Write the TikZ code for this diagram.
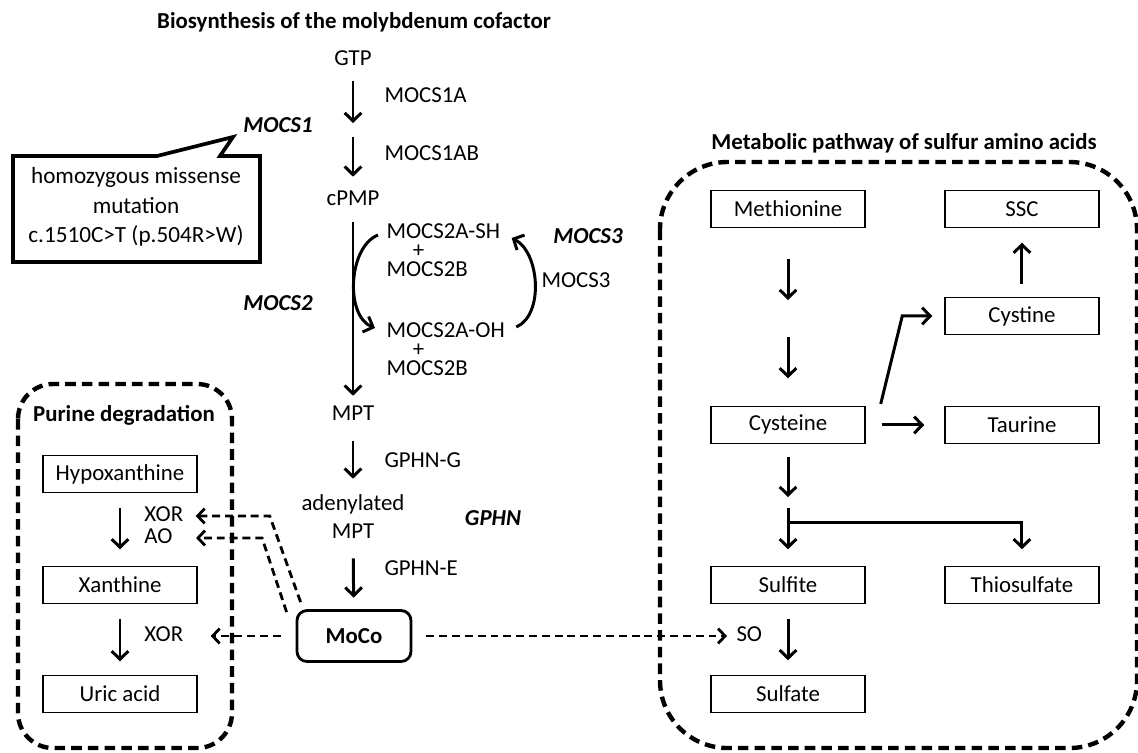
\documentclass[tikz,border=0pt]{standalone}
\usepackage{fontspec}
\setmainfont{Carlito}
\usetikzlibrary{arrows.meta,positioning}

\begin{document}
\begin{tikzpicture}[x=0.02cm, y=-0.02cm, -{Straight Barb[length=4.6pt,width=9.5pt]}, line width=1.7pt, node distance=2.2cm, on grid,
  lbl/.style={font=\fontsize{13}{15}\selectfont, inner sep=0pt, text height=8.2pt, text depth=2.4pt},
  gene/.style={lbl, font=\fontsize{13}{15}\selectfont\bfseries\itshape},
  head/.style={font=\fontsize{13}{15}\selectfont\bfseries},
  pair/.style={font=\fontsize{13}{11}\selectfont, inner sep=0pt, align=left, anchor=north west},
  box/.style={draw, line width=0.8pt, minimum width=3.08cm, minimum height=0.74cm, font=\fontsize{13}{15}\selectfont},
  frame/.style={-, draw, line width=2.5pt, dash pattern=on 6pt off 3.5pt},
  dasharr/.style={line width=1.6pt, dash pattern=on 4.5pt off 2.8pt, -{Straight Barb[length=4pt,width=8.5pt]}}]
\useasboundingbox (0,0) rectangle (1138,752);

\node[head] (title1) at (354,22) {Biosynthesis of the molybdenum cofactor};
\node[lbl] (gtp) at (353,60) {GTP};
\coordinate (s1) at (353,130);
\node[lbl] (cpmp) at (353,200) {cPMP};
\node[lbl] (mpt) at (353,415) {MPT};
\node[lbl] (adn) at (353,505) {adenylated};
\node[lbl] (mpt2) at (353,533) {MPT};
\node[draw, rounded corners=0.2cm, line width=1.6pt, minimum width=2.28cm, minimum height=1.02cm, font=\fontsize{13}{15}\selectfont\bfseries] (moco) at (354,636) {MoCo};

\node[lbl, anchor=west] (mocs1a) at (383,97) {MOCS1A};
\node[lbl, anchor=west] (mocs1ab) at (383,155) {MOCS1AB};
\node[lbl, anchor=west] (gphng) at (383,462) {GPHN-G};
\node[lbl, anchor=west] (gphne) at (383,570) {GPHN-E};
\node[lbl, anchor=west] (mocs3) at (540,282) {MOCS3};
\node[gene] (g1) at (278,127) {MOCS1};
\node[gene] (g2) at (278,305) {MOCS2};
\node[gene] (g3) at (588,238) {MOCS3};
\node[gene] (g4) at (493,520) {GPHN};

\node[pair] (sh) at (385,222) {MOCS2A-SH\\\hspace*{15pt}+\\MOCS2B};
\node[pair] (oh) at (385,321) {MOCS2A-OH\\\hspace*{15pt}+\\MOCS2B};

\path (gtp) edge[shorten <=0.21cm, shorten >=0.14cm] (s1)
      (s1) edge[shorten <=0.14cm, shorten >=0.25cm] (cpmp)
      (cpmp) edge[shorten <=0.23cm, shorten >=0.17cm] (mpt)
      (mpt) edge[shorten <=0.31cm, shorten >=0.31cm] (adn)
      (mpt2) edge[shorten <=0.29cm, shorten >=0.23cm] (moco);

\draw ([shift={(-7,13)}]sh.north west) .. controls +(-30,12) and +(-30,-12) .. ([shift={(-10,7)}]oh.north west);
\draw ([shift={(10,6)}]oh.north east) .. controls +(28,-12) and +(28,14) .. ([shift={(10,16)}]sh.north east);

\draw[-, line width=2.1pt, line join=miter] (13,156) -- (157,156) -- (233,137) -- (220,156) -- (260,156) -- (260,262) -- (13,262) -- cycle;
\node[align=center, font=\fontsize{13.2}{16.7}\selectfont] (mut) at (136,207) {homozygous missense\\mutation\\c.1510C>T (p.504R>W)};

\draw[frame, rounded corners=0.7cm] (18,384) rectangle (232,748);
\node[head] (ptitle) at (124,415) {Purine degradation};
\node[box] (hypo) at (120,474) {Hypoxanthine};
\node[box, below of = hypo, node distance=2.22cm] (xan) {Xanthine};
\node[box, below of = xan, node distance=2.18cm] (uric) {Uric acid};
\node[lbl, anchor=west] (xor1) at (143,516) {XOR};
\node[lbl, anchor=west] (ao) at (143,538) {AO};
\node[lbl, anchor=west] (xor2) at (143,636) {XOR};

\path (hypo) edge[shorten <=0.29cm, shorten >=0.33cm] (xan)
      (xan) edge[shorten <=0.29cm, shorten >=0.27cm] (uric);

\draw[dasharr, shorten >=0.22cm] ([shift={(5,-7)}]moco.north west) -- ([shift={(85,0)}]xor1.east) -- (xor1.east);
\draw[dasharr, shorten >=0.44cm] ([shift={(-9,3)}]moco.north west) -- ([shift={(88,0)}]ao.east) -- (ao.east);
\draw[dasharr, shorten <=0.3cm, shorten >=0.52cm] (moco.west) -- (xor2.east);

\draw[frame, rounded corners=1.35cm] (660,162) rectangle (1137,748);
\node[head] (stitle) at (904,143) {Metabolic pathway of sulfur amino acids};
\node[box] (meth) at (788,209) {Methionine};
\node[box, right of = meth, node distance=4.68cm] (ssc) {SSC};
\node[box, below of = ssc, node distance=2.14cm] (cyst) {Cystine};
\node[box, below of = meth, node distance=4.32cm] (cys) {Cysteine};
\node[box, right of = cys, node distance=4.68cm] (tau) {Taurine};
\node[box, below of = cys, node distance=3.2cm] (sulfite) {Sulfite};
\node[box, right of = sulfite, node distance=4.68cm] (thio) {Thiosulfate};
\node[box, below of = sulfite, node distance=2.18cm] (sulfate) {Sulfate};
\node[lbl, anchor=west] (so) at (735,636) {SO};
\coordinate (m1) at (788,318);
\coordinate (br) at (788,508);
\coordinate (fork) at (788,522);

\path (meth) edge[shorten <=0.61cm, shorten >=0.36cm] (m1)
      (m1) edge[shorten <=0.38cm, shorten >=0.55cm] (cys)
      (cys) edge[shorten <=0.32cm, shorten >=0.4cm] (tau)
      (cyst) edge[shorten <=0.25cm, shorten >=0.29cm] (ssc)
      (cys) edge[shorten <=0.25cm, shorten >=0.22cm] (br)
      (br) edge[shorten >=0.33cm] (sulfite)
      (sulfite) edge[shorten <=0.29cm, shorten >=0.29cm] (sulfate);
\draw[shorten >=0.24cm] ([shift={(15,-21)}]cys.east) -- ([shift={(-42,0)}]cyst.west) -- (cyst.west);
\draw[shorten >=0.33cm] (fork) -| (thio);

\draw[dasharr, shorten <=0.28cm, shorten >=0.16cm] (moco.east) -- (so.west);
\end{tikzpicture}
\end{document}
